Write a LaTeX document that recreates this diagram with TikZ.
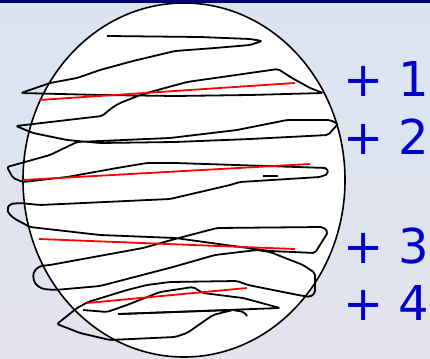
\documentclass[tikz,border=0pt]{standalone}
\usepackage{fontspec}
\setsansfont{DejaVu Sans}
\definecolor{sfondosu}{RGB}{218,228,241}
\definecolor{sfondogiu}{RGB}{227,227,236}
\definecolor{blu}{RGB}{0,0,204}
\definecolor{bordo}{RGB}{0,0,110}
\tikzset{
  tratto/.style={black,line width=1.8pt,line join=round,rounded corners=2pt},
  rosso/.style={red,line width=1.8pt},
  numero/.style={blu,font=\sffamily\fontsize{48}{58}\selectfont,anchor=base west,inner sep=0pt}
}
\begin{document}
\begin{tikzpicture}[x=1pt,y=-1pt]
        \useasboundingbox (0,0) rectangle (430,358);
        %sfondo
        \shade[top color=sfondosu,bottom color=sfondogiu] (0,0) rectangle (430,358);
        \draw[fill=white,line width=1.6pt] (184,180) ellipse [x radius=161,y radius=177];
        \fill[bordo] (0,0) rectangle (430,3);
        %scarabocchio
        \draw[tratto] (107,36)--(200,37)--(250,39)--(262,41)--(250,45)--(215,48)
        --(175,51)--(133,61)--(100,70)--(77,78)--(50,83)--(21,93)
        --(100,95)--(175,96)--(250,95)--(323,93)--(310,88)--(292,78)--(278,69)
        --(215,78)--(187,82)--(143,94)--(120,103)--(113,107)--(102,116)--(16,126)
        --(33,133)--(67,140)--(100,143)--(175,142)--(250,139)--(328,135)--(338,124)
        --(330,120)--(287,120)--(237,130)--(170,138)--(77,142)--(50,155)--(7,167)
        --(13,178)--(23,182)--(67,177)--(117,168)--(147,163)--(175,163)--(327,168)
        --(328,174)--(320,177)--(240,182)--(230,185)--(170,199)--(40,205)
        --(20,203)--(10,204)--(7,209)--(9,214)--(15,219)--(30,227)--(100,235)
        --(175,238)--(270,251)--(315,253)--(328,232)--(323,227)--(217,228)
        --(175,239)--(143,248)--(50,265)--(40,266)--(34,271)--(33,278)--(36,285)
        --(43,289)--(55,290)--(100,286)--(173,267)--(215,255)--(257,250)--(270,252)
        --(303,265)--(315,273)--(315,293)--(310,297)--(298,295)--(248,285)--(237,281)
        --(170,282)--(147,285)--(127,290)--(88,302)--(77,308)--(57,324)--(80,333)
        --(110,340)--(175,337)--(187,333)--(213,315)--(233,310)--(118,314);
        \draw[tratto] (83,310)--(107,312)--(127,305)--(160,292)--(193,287)--(203,293)
        --(243,298)--(280,308)--(200,311)--(120,314);
        \draw[tratto] (233,310)--(244,312)--(247,316);
        \draw[line width=2pt] (263,176)--(278,176);
        %linee rosse
        \draw[rosso] (39,100)--(295,83);
        \draw[rosso] (23,180)--(310,164);
        \draw[rosso] (39,239)--(295,249);
        \draw[rosso] (87,303)--(247,288);
        %etichette
        \node[numero] (piu1) at (343,97) {+ 1};
        \node[numero] (piu2) at (343,154) {+ 2};
        \node[numero] (piu3) at (343,263) {+ 3};
        \node[numero] (piu4) at (343,320) {+ 4};
\end{tikzpicture}
\end{document}
